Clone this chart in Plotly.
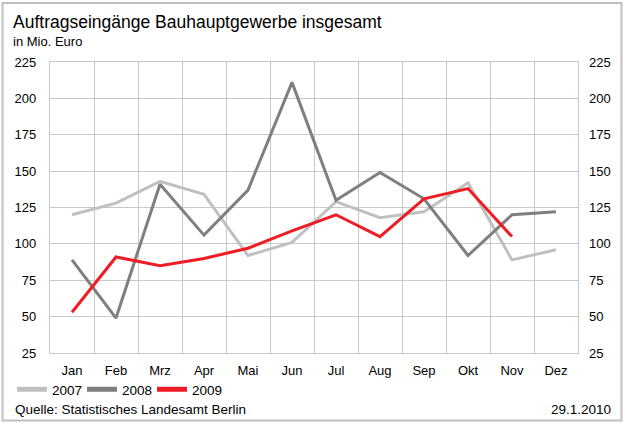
import plotly.graph_objects as go

# Monthly order intake, main construction trade, Berlin (Mio. Euro)
months = ["Jan", "Feb", "Mrz", "Apr", "Mai", "Jun", "Jul", "Aug", "Sep", "Okt", "Nov", "Dez"]
values_2007 = [120, 128, 143, 134, 92, 101, 129, 118, 122, 142, 89, 96]
values_2008 = [89, 49, 141, 106, 137, 211, 130, 149, 131, 92, 120, 122]
values_2009 = [53, 91, 85, 90, 97, 109, 120, 105, 131, 138, 105]
y_ticks = [25, 50, 75, 100, 125, 150, 175, 200, 225]

FONT = "Liberation Sans, Arial, sans-serif"
GRID = "#c8c8c8"
W, H = 625, 424
ML, MR, MT, MB = 50, 47, 62, 71
PW, PH = W - ML - MR, H - MT - MB


def px_x(px):
    return (px - ML) / PW


def px_y(py):
    return (H - MB - py) / PH


fig = go.Figure()
series = [
    ("2007", values_2007, "#c0c0c0"),
    ("2008", values_2008, "#7f7f7f"),
    ("2009", values_2009, "#ee1c25"),
]
for name, vals, color in series:
    fig.add_trace(go.Scatter(
        x=months[:len(vals)], y=vals, name=name, mode="lines",
        line=dict(color=color, width=3), hoverinfo="skip",
    ))

# mirror axis on the right-hand side
fig.add_trace(go.Scatter(
    x=months, y=[None] * len(months), yaxis="y2", showlegend=False,
    hoverinfo="skip", mode="lines",
))

axis_font = dict(family=FONT, size=13, color="#000000")
yaxis_common = dict(
    range=[25, 225], tickvals=y_ticks, showgrid=True, gridcolor=GRID,
    gridwidth=1.3, zeroline=False, tickfont=axis_font, ticks="",
    ticklabelstandoff=10, fixedrange=True,
)

fig.update_layout(
    width=W, height=H, autosize=False,
    margin=dict(l=ML, r=MR, t=MT, b=MB),
    paper_bgcolor="white", plot_bgcolor="white",
    font=dict(family=FONT, color="#000000"),
    xaxis=dict(
        type="category", categoryarray=months, range=[-0.5, 11.5],
        tickson="boundaries", showgrid=True, gridcolor=GRID, gridwidth=1.3,
        showline=True, linecolor=GRID, linewidth=1.3, mirror=True,
        ticks="", tickfont=axis_font, ticklabelstandoff=5,
    ),
    yaxis=dict(side="left", showline=True, linecolor=GRID, linewidth=1.3,
               mirror=True, **yaxis_common),
    yaxis2=dict(side="right", overlaying="y", showline=False, **yaxis_common),
    showlegend=True,
    legend=dict(
        orientation="h", x=px_x(12), y=px_y(374), xanchor="left", yanchor="top",
        font=dict(family=FONT, size=13.5, color="#000000"),
        entrywidth=25, entrywidthmode="pixels", itemsizing="constant",
        bgcolor="rgba(0,0,0,0)", borderwidth=0, tracegroupgap=0,
    ),
    annotations=[
        dict(text="Auftragseingänge Bauhauptgewerbe insgesamt", xref="paper", yref="paper",
             x=px_x(11), y=px_y(10), xanchor="left", yanchor="top", showarrow=False,
             font=dict(family=FONT, size=17.5, color="#000000")),
        dict(text="in Mio. Euro", xref="paper", yref="paper",
             x=px_x(11), y=px_y(32), xanchor="left", yanchor="top", showarrow=False,
             font=dict(family=FONT, size=13, color="#000000")),
        dict(text="Quelle: Statistisches Landesamt Berlin", xref="paper", yref="paper",
             x=px_x(13), y=px_y(400), xanchor="left", yanchor="top", showarrow=False,
             font=dict(family=FONT, size=13.5, color="#000000")),
        dict(text="29.1.2010", xref="paper", yref="paper",
             x=px_x(613), y=px_y(400), xanchor="right", yanchor="top", showarrow=False,
             font=dict(family=FONT, size=13.5, color="#000000")),
    ],
    shapes=[
        dict(type="rect", xref="paper", yref="paper",
             x0=px_x(2.5), x1=px_x(621.5), y0=px_y(420.5), y1=px_y(3),
             line=dict(color="#c0c0c0", width=2), fillcolor="rgba(0,0,0,0)",
             layer="below"),
    ],
)

fig.write_html("out.html")
